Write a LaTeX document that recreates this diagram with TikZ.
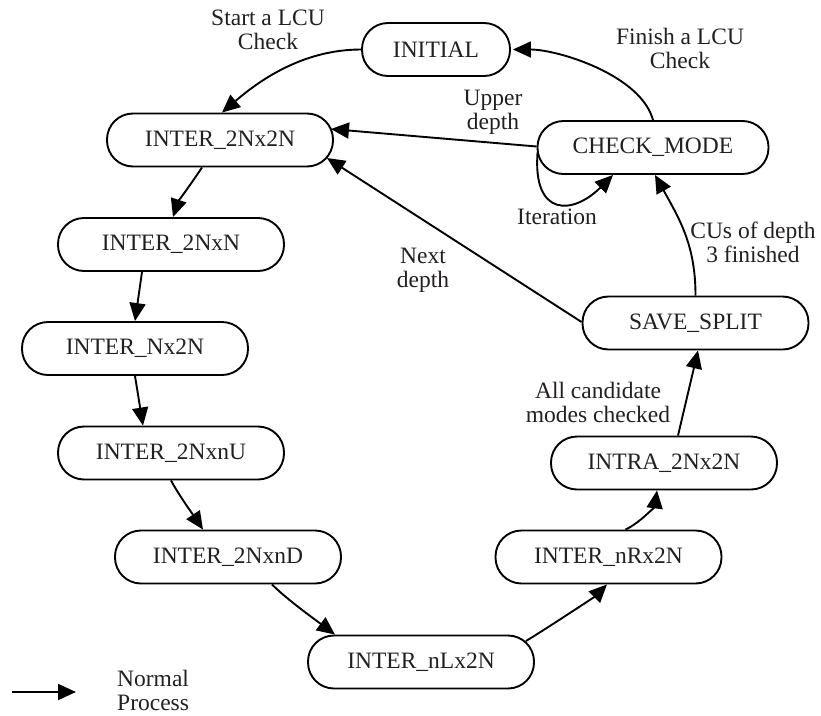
\documentclass[tikz,border=0pt]{standalone}
\usepackage{fontspec}
\setmainfont{Liberation Serif}
\usetikzlibrary{arrows.meta,calc}
\definecolor{ink}{RGB}{35,31,32}
\begin{document}
\begin{tikzpicture}[x=1pt,y=-1pt,
  state/.style={draw=black, line width=1.9pt, rounded corners=26pt,
    minimum width=226pt, minimum height=53pt, inner sep=0pt,
    font=\fontsize{23.5}{24}\selectfont, text=ink},
  lbl/.style={align=center, inner sep=0pt,
    font=\fontsize{23.5}{24}\selectfont, text=ink},
  flow/.style={line width=1.9pt, -{Triangle[length=18pt,width=16pt]}},
]
\useasboundingbox (0,0) rectangle (821,715);

% states
\node[state, minimum width=148pt] (init) at (436,49.5) {INITIAL};
\node[state] (a) at (220,140) {INTER\_2Nx2N};
\node[state, minimum width=231pt] (chk) at (653,147.5) {CHECK\_MODE};
\node[state] (b) at (171,244.5) {INTER\_2NxN};
\node[state] (c) at (135,348.5) {INTER\_Nx2N};
\node[state] (d) at (171,453) {INTER\_2NxnU};
\node[state] (e) at (228,557) {INTER\_2NxnD};
\node[state] (f) at (421,662) {INTER\_nLx2N};
\node[state] (g) at (608.5,557) {INTER\_nRx2N};
\node[state] (h) at (664,463) {INTRA\_2Nx2N};
\node[state] (sv) at (695.5,323) {SAVE\_SPLIT};

% transitions
\draw[flow] (init.west) .. controls +(-60,0) and +(35,-30) .. ($(a.north)+(2,0)$);
\draw[flow] (chk.north) .. controls +(-12,-45) and +(45,0) .. ($(init.east)+(2,0)$);
\draw[flow] ($(chk.west)+(0,-1)$) -- ($(a.east)+(-3,-11)$);
\draw[flow] ($(chk.west)+(1,5)$) .. controls +(-5,65) and +(-40,40) .. ($(chk.south)+(-40,0)$);
\draw[flow] (sv.north) .. controls +(0,-50) and +(25,45) .. ($(chk.south)+(2,0)$);
\draw[flow] ($(sv.west)+(0,-1)$) -- ($(a.east)+(-7,18)$);

\draw[flow] ($(a.south)+(-18,0)$) .. controls +(-10,15) and +(5,-15) .. ($(b.north)+(2,0)$);
\draw[flow] ($(b.south)+(-29,0)$) -- (c.north);
\draw[flow] (c.south) -- ($(d.north)+(-28,0)$);
\draw[flow] (d.south) .. controls +(8,15) and +(-8,-12) .. ($(e.north)+(-25,0)$);
\draw[flow] ($(e.south)+(44,0)$) .. controls +(15,15) and +(-20,-15) .. ($(f.north)+(-86,0)$);
\draw[flow] ($(f.east)+(-9,-21)$) .. controls +(20,-12) and +(-12,12) .. ($(g.south)+(-1.5,0)$);
\draw[flow] ($(g.north)+(17,0)$) .. controls +(15,-7) and +(-2,15) .. ($(h.south)+(-7,0)$);
\draw[flow] ($(h.north)+(14,0)$) -- ($(sv.south)+(2.5,0)$);

% transition labels
\node[lbl] (tStart) at (268,30) {Start a LCU\\Check};
\node[lbl] (tFinish) at (680,48) {Finish a LCU\\Check};
\node[lbl] (tUpper) at (493,112) {Upper\\depth};
\node[lbl] (tIter) at (557,217) {Iteration};
\node[lbl] (tCUs) at (753,242) {CUs of depth\\3 finished};
\node[lbl] (tNext) at (423,270) {Next\\depth};
\node[lbl] (tAll) at (598,402) {All candidate\\modes checked};

% legend
\coordinate (l0) at (12,692);
\coordinate (l1) at (76,692);
\draw[flow] (l0) -- (l1);
\node[lbl, align=left, anchor=west] (tLeg) at (117,690) {Normal\\Process};
\end{tikzpicture}
\end{document}
